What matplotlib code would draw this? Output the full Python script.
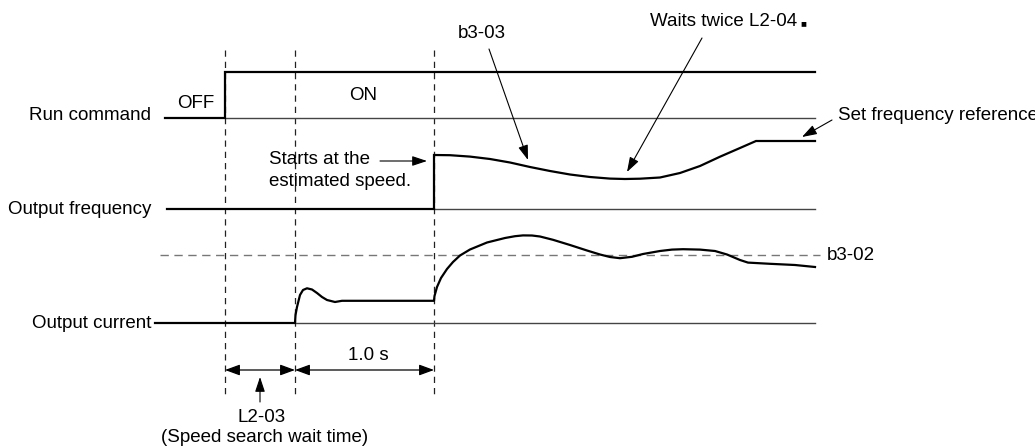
import matplotlib
matplotlib.use('Agg')
import matplotlib.pyplot as plt

plt.rcParams['font.family'] = ['Liberation Sans', 'DejaVu Sans']

# diagram drawn in picture units (x: time, y: level, top = 0)
t_run = [225, 295, 434]          # run on, search start, search end
t_end = 815

run_x = [165, 225, 225, t_end]
run_y = [118, 118, 72, 72]

freq_x = [167, 434, 434, 450, 470, 490, 510, 530, 550, 570, 590, 610, 625, 640, 660,
          680, 700, 720, 740, 756, t_end]
freq_y = [209, 209, 155, 155.2, 156.6, 159, 162.5, 167, 171, 174.5, 177, 178.6, 179,
          178.7, 177.5, 173, 166, 156.7, 148, 141, 141]

cur_x = [155, 295, 295.5, 297, 300, 303, 307, 312, 317, 322, 327, 335, 342, 434,
         434.5, 437, 441, 447, 453, 460, 470, 487, 505, 515, 523, 532, 540, 553, 570, 587, 600,
         610, 620, 632, 643, 660, 672, 683, 700, 715, 727, 740, 748, 770, 795, t_end]
cur_y = [323, 323, 315, 307, 295, 290, 288.3, 289.5, 293, 297, 300, 302, 300.8, 300.8,
         296, 287, 278, 269, 262, 255.5, 249.5, 242.5, 238, 236.2, 235.4, 235.5, 236.5, 239.8,
         245, 250.5, 254.5, 257, 258.2, 256.8, 254, 251, 249.6, 249.2, 249.6, 251, 254.5, 260,
         262.6, 263.8, 265, 267]

levels = {'run_low': 118, 'freq_low': 209, 'cur_low': 323, 'b3_02': 255}
row_labels = ['Run command', 'Output frequency', 'Output current']
row_y = [116, 210, 323]

fig = plt.figure(figsize=(10.35, 4.47), dpi=100)
ax = fig.add_axes([0, 0, 1, 1])
ax.set_xlim(0, 1035)
ax.set_ylim(447, 0)
ax.axis('off')

fs = 13.5
sig = dict(color='black', lw=1.6, solid_joinstyle='round')
base = dict(color='#444444', lw=1.0)

# timing guides
for tx in t_run:
    ax.plot([tx, tx], [50, 394], color='#222222', lw=0.9, dashes=(5, 4))
ax.plot([160, 820], [levels['b3_02']] * 2, color='#777777', lw=1.0, dashes=(6, 4))

# baselines
ax.plot([225, t_end], [levels['run_low']] * 2, **base)
ax.plot([434, t_end], [levels['freq_low']] * 2, **base)
ax.plot([295, t_end], [levels['cur_low']] * 2, **base)

# signals
ax.plot(run_x, run_y, color='black', lw=1.6, solid_joinstyle='miter')
ax.plot(freq_x, freq_y, color='black', lw=1.6, solid_joinstyle='miter')
ax.plot(cur_x, cur_y, **sig)

for lab, ly in zip(row_labels, row_y):
    ax.text(151, ly, lab, ha='right', va='center', fontsize=fs)

ax.text(196, 104, 'OFF', ha='center', va='center', fontsize=fs)
ax.text(363, 96, 'ON', ha='center', va='center', fontsize=fs)
ax.text(827, 255, 'b3-02', ha='left', va='center', fontsize=fs)

ah = dict(arrowstyle='-|>,head_length=0.6,head_width=0.2', color='black', lw=0.8,
          shrinkA=0, shrinkB=0, mutation_scale=15)
ah2 = dict(arrowstyle='<|-|>,head_length=0.6,head_width=0.22', color='black', lw=0.9,
           shrinkA=0, shrinkB=0, mutation_scale=15)

# dimension arrows
ax.annotate('', xy=(t_run[1], 370), xytext=(t_run[0], 370), arrowprops=ah2)
ax.annotate('', xy=(t_run[2], 370), xytext=(t_run[1], 370), arrowprops=ah2)
ax.text(368, 355, '1.0 s', ha='center', va='center', fontsize=fs)
ax.annotate('', xy=(260, 377), xytext=(260, 402), arrowprops=ah)
ax.text(262, 418, 'L2-03', ha='center', va='center', fontsize=fs)
ax.text(265, 437, '(Speed search wait time)', ha='center', va='center', fontsize=fs)

# callouts
ax.text(269, 160, 'Starts at the', ha='left', va='center', fontsize=fs)
ax.text(269, 182, 'estimated speed.', ha='left', va='center', fontsize=fs)
ax.annotate('', xy=(427, 161), xytext=(380, 161), arrowprops=ah)

ax.text(482, 33, 'b3-03', ha='center', va='center', fontsize=fs)
ax.annotate('', xy=(528, 160), xytext=(489, 49), arrowprops=ah)

ax.text(650, 22, 'Waits twice L2-04', ha='left', va='center', fontsize=fs)
ax.text(800, 23, '\u25a0', ha='left', va='center', fontsize=7)
ax.annotate('', xy=(627, 172), xytext=(702, 38), arrowprops=ah)

ax.text(838, 116, 'Set frequency reference', ha='left', va='center', fontsize=fs)
ax.annotate('', xy=(802, 137), xytext=(832, 120), arrowprops=ah)

plt.savefig('out.png', dpi=100)
plt.close()
